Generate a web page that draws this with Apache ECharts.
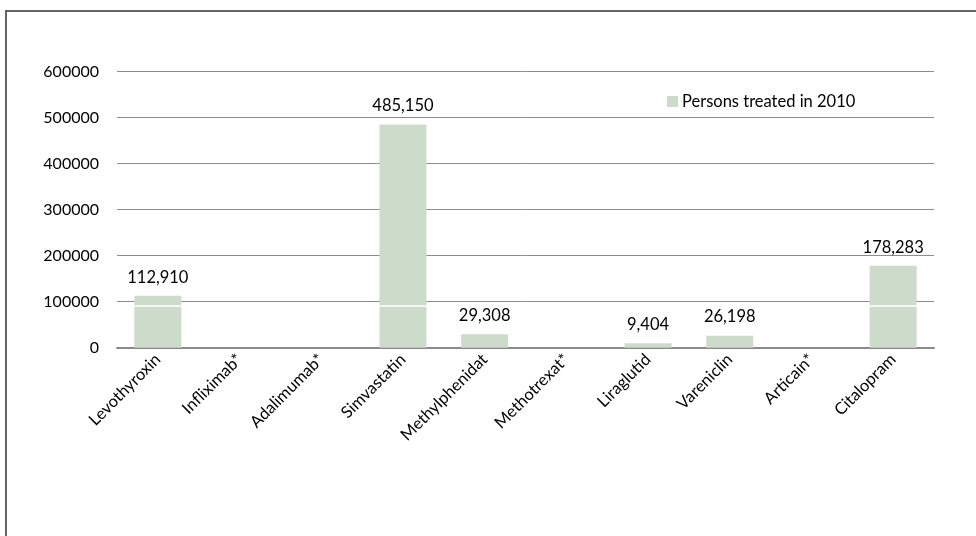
<!DOCTYPE html>
<html>
<head>
<meta charset="utf-8">
<style>
  html, body { margin: 0; padding: 0; background: #fff; }
  #chart { width: 976px; height: 536px; }
</style>
<script src="https://cdn.jsdelivr.net/npm/echarts@6/dist/echarts.min.js"></script>
</head>
<body>
<div id="chart"></div>
<script>
// Drugs and number of persons treated in 2010 (null = no data, marked with *)
const drugs = ['Levothyroxin', 'Infliximab*', 'Adalimumab*', 'Simvastatin', 'Methylphenidat',
               'Methotrexat*', 'Liraglutid', 'Vareniclin', 'Articain*', 'Citalopram'];
const personsTreated = [112910, null, null, 485150, 29308, null, 9404, 26198, null, 178283];
const yTicks = [0, 100000, 200000, 300000, 400000, 500000, 600000];
const seriesName = 'Persons treated in 2010';
// thin white seam that runs across the taller bars
const seamLevel = 90500;

const FONT = 'Lato, "Open Sans", sans-serif';
const chart = echarts.init(document.getElementById('chart'), null, { renderer: 'canvas' });

chart.setOption({
  animation: false,
  backgroundColor: '#ffffff',
  graphic: [{
    type: 'rect',
    shape: { x: 6, y: 11, width: 1000, height: 600 },
    style: { fill: 'none', stroke: '#646464', lineWidth: 2 },
    silent: true
  }],
  grid: { left: 117, right: 42, top: 71.7, bottom: 188.3 },
  legend: {
    data: [seriesName],
    left: 662, top: 88,
    itemWidth: 11, itemHeight: 11, itemGap: 5,
    icon: 'rect',
    textStyle: { fontFamily: FONT, fontSize: 16.5, color: '#000', padding: [0, 0, 0, -1] }
  },
  xAxis: {
    type: 'category',
    data: drugs,
    axisLine: { lineStyle: { color: '#8a8a8a', width: 2 } },
    axisTick: { show: false },
    axisLabel: {
      rotate: 45, margin: 9, interval: 0,
      fontFamily: FONT, fontSize: 16.5, color: '#000'
    }
  },
  yAxis: {
    type: 'value',
    min: 0, max: yTicks[yTicks.length - 1], interval: yTicks[1] - yTicks[0],
    axisLine: { show: false },
    axisTick: { show: false },
    splitLine: { lineStyle: { color: '#8c8c8c', width: 1 } },
    axisLabel: {
      margin: 18, fontFamily: FONT, fontSize: 16, color: '#000',
      formatter: v => String(v)
    }
  },
  series: [{
    name: seriesName,
    type: 'bar',
    data: personsTreated,
    barWidth: 47,
    itemStyle: { color: '#cddbcb' },
    label: {
      show: true, position: 'top', distance: 10,
      fontFamily: FONT, fontSize: 16.5, color: '#000',
      formatter: p => p.value == null ? '' : p.value.toLocaleString('en-US')
    },
    markLine: {
      silent: true, symbol: 'none',
      label: { show: false },
      lineStyle: { color: '#ffffff', width: 1.5, type: 'solid' },
      data: [{ yAxis: seamLevel }]
    }
  }]
});
</script>
</body>
</html>
